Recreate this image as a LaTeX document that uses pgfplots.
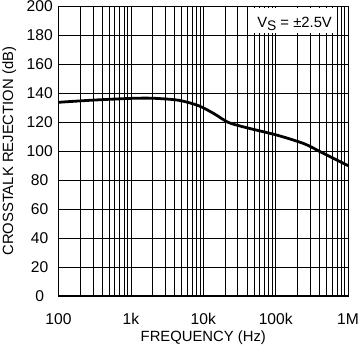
\documentclass[border=0pt]{standalone}
\usepackage{pgfplots}
\pgfplotsset{compat=1.18}
\usepackage{fontspec}
\setmainfont{Liberation Sans}
\newcommand\ff{\fontsize{15}{16}\selectfont}
\newcommand\ft{\fontsize{15.8}{16}\selectfont}
\begin{document}
\begin{tikzpicture}
\useasboundingbox (0,0) rectangle (362bp,350.5bp);
\begin{axis}[
  at={(59bp,52bp)}, anchor=south west,
  scale only axis,
  width=292bp, height=292bp,
  xmode=log, xmin=100, xmax=1000000,
  ymin=0, ymax=200,
  ytick={0,20,...,200},
  xtick={100,1000,10000,100000,1000000},
  xticklabels={100,1k,10k,100k,1M},
  grid=both,
  major grid style={black, line width=0.7bp},
  minor grid style={black, line width=0.7bp},
  minor y tick num=0,
  tick style={draw=none},
  axis line style={black, line width=1.1bp},
  /pgf/number format/assume math mode=true,
  tick label style={font=\ft, inner sep=0pt},
  yticklabel style={anchor=center, xshift=-19bp},
  xticklabel style={anchor=center, yshift=-23.5bp},
  xlabel={FREQUENCY (Hz)},
  ylabel={CROSSTALK REJECTION (dB)},
  xlabel style={font=\ff, inner sep=0pt, at={(axis description cs:0.5,0)}, anchor=base, yshift=-46bp},
  ylabel style={font=\ff, inner sep=0pt, at={(axis description cs:0,0.5)}, anchor=base, rotate=0, yshift=45.7bp},
  clip=false,
]
\addplot[black, line width=2.8bp, smooth] coordinates {
(100,133.8) (300,135.3) (1000,136.5) (2000,136.6) (4550,135.2) (8550,131.5)
(14000,126) (22000,120) (37250,116.6) (106000,111) (247000,105.2) (418000,99.5) (1000000,90)
};
\node[fill=white, inner xsep=3bp, inner ysep=0pt, text height=19.7bp, text depth=5.3bp, anchor=base east, font=\ff]
  at (rel axis cs:0.955,0.9257) {V\raisebox{-3bp}{\fontsize{14}{14}\selectfont S} = ±2.5V};
\end{axis}
\end{tikzpicture}
\end{document}
